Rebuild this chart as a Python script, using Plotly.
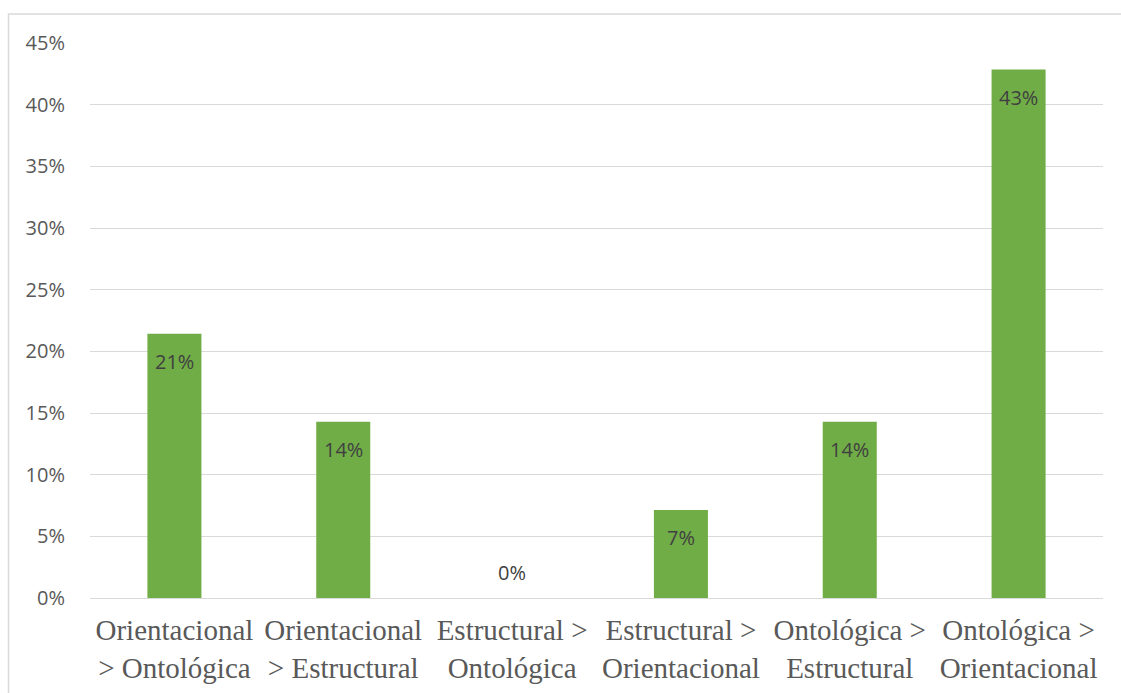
import plotly.graph_objects as go

categories = [
    "Orientacional<br>> Ontológica",
    "Orientacional<br>> Estructural",
    "Estructural ><br>Ontológica",
    "Estructural ><br>Orientacional",
    "Ontológica ><br>Estructural",
    "Ontológica ><br>Orientacional",
]
values = [0.2143, 0.1429, 0.0, 0.0714, 0.1429, 0.4286]
labels = ["21%", "14%", "0%", "7%", "14%", "43%"]
y_ticks = [0, 0.05, 0.10, 0.15, 0.20, 0.25, 0.30, 0.35, 0.40, 0.45]
y_tick_labels = ["0%", "5%", "10%", "15%", "20%", "25%", "30%", "35%", "40%", "45%"]

W, H = 1121, 693
ML, MR, MT, MB = 90, 18, 43, 95
pw, ph = W - ML - MR, H - MT - MB

fig = go.Figure()
fig.add_trace(go.Bar(
    x=categories, y=values,
    marker=dict(color="#70AD47", line=dict(width=0)),
    hoverinfo="skip",
))

annotations = []
for c, v, t in zip(categories, values, labels):
    annotations.append(dict(
        x=c, y=v, xref="x", yref="y", text=t, showarrow=False,
        yanchor="middle", yshift=(-28 if v > 0 else 26),
        font=dict(family="Open Sans", size=20, color="#404040"),
    ))

def px_to_paper_x(px):
    return (px - ML) / pw

def px_to_paper_y(py):
    return (H - MB - py) / ph

shapes = [dict(
    type="rect", xref="paper", yref="paper", layer="below",
    x0=px_to_paper_x(8.5), x1=px_to_paper_x(1130),
    y0=px_to_paper_y(710), y1=px_to_paper_y(14),
    line=dict(color="#D9D9D9", width=1.5), fillcolor="rgba(0,0,0,0)",
)]

fig.update_layout(
    width=W, height=H,
    margin=dict(l=ML, r=MR, t=MT, b=MB, pad=0),
    paper_bgcolor="white", plot_bgcolor="white",
    bargap=0.68,
    showlegend=False,
    annotations=annotations,
    shapes=shapes,
    xaxis=dict(
        type="category",
        showgrid=False, showline=False, zeroline=False, ticks="",
        tickfont=dict(family="Liberation Serif", size=29, color="#595959"),
        tickangle=0,
        ticklabelstandoff=12,
        automargin=False,
    ),
    yaxis=dict(
        range=[0, 0.45],
        tickvals=y_ticks, ticktext=y_tick_labels,
        showgrid=True, gridcolor="#D9D9D9", gridwidth=1.3,
        zeroline=True, zerolinecolor="#D9D9D9", zerolinewidth=1.3,
        showline=False, ticks="",
        ticklabelstandoff=24,
        automargin=False,
        tickfont=dict(family="Open Sans", size=20, color="#595959"),
    ),
)

fig.write_html("out.html")
